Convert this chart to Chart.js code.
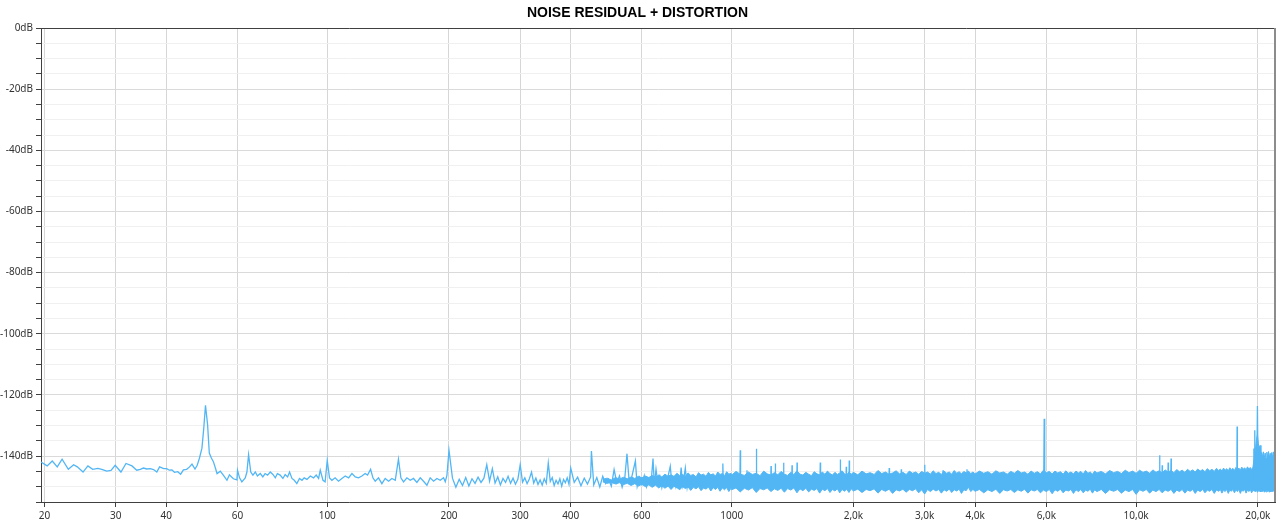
<!DOCTYPE html>
<html>
<head>
<meta charset="utf-8">
<title>Noise residual + distortion</title>
<script src="https://cdn.jsdelivr.net/npm/chart.js@4.4.1/dist/chart.umd.min.js"></script>
<style>
  html, body { margin: 0; padding: 0; background: #ffffff; }
  #wrap { width: 1280px; height: 527px; }
</style>
</head>
<body>
<div id="wrap"><canvas id="noiseChart" width="1280" height="527"></canvas></div>
<script>
// Axis ticks
const freqTicks = [20, 30, 40, 60, 100, 200, 300, 400, 600, 1000, 2000, 3000, 4000, 6000, 10000, 20000];
const freqLabels = ['20', '30', '40', '60', '100', '200', '300', '400', '600', '1000', '2,0k', '3,0k', '4,0k', '6,0k', '10,0k', '20,0k'];
const dbLabelled = [0, -20, -40, -60, -80, -100, -120, -140];

// Spectrum, [Hz, dB]
const lowBand = [
  [19.6,-141.9],[20.3,-143.2],[20.9,-141.6],[21.5,-143.5],[22.1,-141.0],[22.9,-144.3],[23.6,-142.8],[24.1,-143.5],
  [24.9,-145.2],[25.6,-143.2],[26.3,-144.3],[27.1,-144.0],[27.7,-144.3],[28.5,-144.9],[29.2,-144.7],[29.9,-143.0],
  [30.9,-145.2],[31.8,-142.4],[32.9,-143.2],[33.8,-144.6],[34.5,-144.3],[35.1,-143.9],[35.8,-144.2],[36.5,-144.1],
  [37.2,-144.4],[37.9,-145.2],[38.5,-143.5],[39.4,-144.1],[40.1,-144.1],[40.7,-144.6],[41.3,-144.5],[41.9,-145.3],
  [42.7,-145.1],[43.4,-145.9],[44.1,-144.5],[44.9,-144.3],[45.6,-143.6],[46.3,-142.6],[47.1,-144.2],[47.7,-143.0],
  [48.3,-140.7],[49.0,-137.4],[49.5,-131.0],[50.0,-123.4],[50.6,-129.7],[51.1,-139.0],[51.7,-140.6],[52.3,-141.8],
  [52.9,-143.9],[53.4,-145.7],[54.4,-144.9],[55.4,-146.3],[56.5,-147.9],[57.3,-146.1],[58.6,-147.4],[59.8,-147.8],
  [60.0,-144.6],[60.7,-147.1],[61.5,-148.4],[62.7,-147.1],[63.3,-145.2],[63.9,-139.5],[64.7,-145.2],[65.5,-146.2],
  [66.4,-145.2],[67.2,-146.5],[68.3,-145.7],[69.3,-146.8],[70.2,-145.7],[71.2,-146.2],[72.3,-145.2],[73.4,-146.0],
  [74.4,-147.1],[75.3,-145.7],[76.5,-146.2],[77.7,-147.3],[78.7,-146.0],[79.8,-146.8],[80.7,-145.2],[81.8,-147.3],
  [82.9,-147.9],[84.1,-149.0],[85.4,-147.3],[86.6,-147.9],[87.7,-147.1],[89.1,-147.6],[90.8,-146.5],[92.5,-147.1],
  [93.9,-146.2],[95.2,-147.3],[96.1,-144.6],[97.6,-147.9],[98.8,-148.4],[100.0,-141.4],[101.3,-147.1],[102.7,-147.9],
  [104.6,-147.1],[106.6,-148.2],[108.7,-147.3],[110.8,-146.5],[112.9,-147.1],[115.1,-145.7],[117.3,-146.8],[119.5,-147.1],
  [121.8,-146.5],[124.1,-145.7],[125.8,-146.2],[128.0,-144.3],[129.7,-147.1],[131.4,-148.2],[133.9,-147.1],[136.5,-149.0],
  [139.1,-147.3],[141.8,-148.2],[144.5,-147.3],[147.3,-147.9],[150.0,-141.0],[152.1,-147.1],[154.4,-148.4],[157.4,-147.1],
  [160.4,-147.9],[163.4,-147.3],[166.6,-148.6],[169.8,-147.1],[173.0,-148.2],[176.4,-149.5],[179.7,-147.1],[183.2,-148.2],
  [186.7,-147.3],[190.3,-147.9],[193.9,-147.1],[195.8,-148.4],[197.7,-146.2]
];

const midBand = [
  [200,-138.1],[204,-147.2],[208,-150.2],[212,-147.6],[216,-149.6],[220,-147.0],[224,-149.8],[228,-147.4],
  [232,-148.9],[236,-146.9],[240,-148.6],[244,-147.2],[248,-142.8],[252,-148.2],[256,-144.1],[260,-148.8],
  [264,-146.8],[268,-149.4],[272,-147.3],[276,-148.6],[280,-146.6],[284,-148.9],[288,-147.2],[292,-149.2],
  [296,-147.6],[300,-142.8],[304,-148.5],[308,-147.1],[312,-149.0],[316,-147.5],[320,-145.2],[324,-148.8],
  [328,-147.2],[332,-149.3],[336,-147.8],[340,-149.5],[344,-147.4],[348,-148.9],[352,-142.2],[356,-148.3],
  [360,-147.0],[364,-149.6],[368,-147.9],[372,-149.1],[376,-147.4],[380,-149.8],[384,-147.6],[388,-148.7],
  [392,-147.1],[396,-149.2],
  [400,-143.9],[408,-148.6],[416,-146.9],[424,-149.7],[432,-147.2],[440,-149.1],[448,-146.8],[450,-138.3],
  [456,-149.4],[464,-147.0],[472,-150.1],[480,-146.6],[488,-149.0],[496,-147.5],[504,-149.8],[512,-144.4],
  [520,-148.7],[528,-146.5],[536,-150.2],[544,-147.3],[551,-139.2],[558,-148.5],[566,-146.9],[578,-141.6],
  [584,-149.9],[592,-147.0],[600,-149.3],[608,-146.4],[616,-150.0],[624,-147.4],[632,-148.8],[639,-140.8],
  [644,-149.7],[650,-144.3],[656,-148.3],[664,-146.5],[672,-150.3],[680,-147.1],[688,-149.2],[696,-146.7],
  [705,-143.3],[712,-149.6],[720,-146.9],[728,-150.1],[736,-147.4],[744,-149.0],[750,-143.7],[756,-149.5],
  [762,-147.0],[768,-143.9],[776,-150.2],[784,-146.6],[792,-149.4]
];

// Harmonic lines standing out of the dense noise, [Hz, dB]
const spikes = [
  [800,-148],[949,-148],[951,-142.4],[953,-148],[1048,-148],[1050,-138.1],[1052,-148],[1089,-148],[1091,-144.6],
  [1093,-148],[1149,-148],[1151,-137.6],[1153,-148],[1249,-148],[1251,-143.2],[1253,-148],[1280,-148],[1282,-142.4],
  [1284,-148],[1342,-148],[1344,-142.2],[1346,-148],[1408,-148],[1410,-143.0],[1412,-148],[1449,-148],[1451,-142.1],
  [1453,-148],[1653,-148],[1656,-142.1],[1659,-148],[1853,-148],[1856,-141.1],[1859,-148],[1917,-148],[1920,-143.5],
  [1923,-148],[1950,-148],[1953,-141.4],[1956,-148],[2448,-148],[2452,-143.9],[2456,-148],[2622,-148],[2626,-144.3],
  [2630,-148],[2995,-148],[3000,-142.8],[3005,-148],[3326,-148],[3331,-144.6],[3336,-148],[3812,-148],[3818,-144.3],
  [3824,-148],[5910,-148],[5925,-127.8],[5935,-128.3],[5950,-148],[11420,-148],[11434,-139.7],[11448,-148],
  [11580,-148],[11600,-143.0],[11620,-148],[11980,-148],[12000,-142.1],[12020,-148],[12180,-148],[12200,-140.8],
  [12220,-148],[17740,-148],[17770,-130.3],[17800,-148],[19500,-148],[19550,-137.5],[19600,-148],[19650,-131.5],
  [19700,-146],[19880,-146],[19950,-123.6],[20020,-146],[22050,-148]
];

// Dense noise floor as seen on screen: [Hz, upper edge dB, lower edge dB]
const noiseFloor = [
  [480,-147.6,-148.4],[492,-147.2,-148.9],[504,-147.8,-148.6],[516,-147.0,-149.1],[528,-147.5,-148.7],[540,-146.9,-149.3],
  [552,-147.4,-148.9],[564,-146.8,-149.6],[576,-147.3,-149.0],[588,-146.6,-149.8],[600,-147.1,-149.2],[612,-146.5,-150.0],
  [624,-147.0,-149.4],[636,-146.3,-150.2],[648,-146.9,-149.5],[660,-146.2,-150.4],[672,-146.8,-149.7],[684,-145.9,-150.5],
  [696,-146.6,-149.8],[708,-146.1,-150.9],[720,-146.7,-149.9],[732,-145.6,-150.3],[744,-146.4,-151.0],[756,-146.0,-150.0],
  [768,-146.6,-150.6],[780,-145.5,-150.1],[792,-146.3,-151.2],[804,-146.0,-150.2],[816,-146.8,-150.7],[828,-145.4,-150.0],
  [840,-146.2,-151.3],[852,-145.9,-150.4],[864,-146.6,-150.8],[876,-145.3,-150.1],[888,-146.1,-151.4],[900,-145.8,-150.3],
  [912,-146.5,-150.9],[924,-145.2,-150.2],[936,-146.0,-151.5],[948,-145.7,-150.4],[960,-146.4,-151.0],[972,-145.1,-150.3],
  [984,-145.9,-151.6],[996,-145.6,-150.5],
  [1000,-146.2,-151.0],[1025,-145.0,-150.4],[1050,-145.9,-151.7],[1075,-146.3,-150.5],[1100,-145.2,-151.1],[1125,-146.0,-150.3],
  [1150,-145.6,-151.9],[1175,-146.4,-150.6],[1200,-144.9,-151.0],[1225,-145.8,-150.4],[1250,-146.2,-151.6],[1275,-145.4,-150.7],
  [1300,-146.1,-151.2],[1325,-145.0,-150.5],[1350,-145.9,-151.8],[1375,-146.3,-150.6],[1400,-145.3,-151.1],[1425,-146.0,-150.4],
  [1450,-144.8,-152.0],[1475,-145.9,-150.7],[1500,-146.2,-151.3],[1525,-145.3,-150.5],[1550,-145.9,-151.7],[1575,-146.4,-150.8],
  [1600,-145.1,-151.2],[1625,-145.8,-150.6],[1650,-146.1,-152.1],[1675,-145.2,-150.8],[1700,-145.9,-151.3],[1725,-144.9,-150.6],
  [1750,-145.7,-151.9],[1775,-146.2,-150.9],[1800,-145.3,-151.4],[1825,-146.0,-150.7],[1850,-145.5,-152.0],[1875,-144.8,-150.9],
  [1900,-145.8,-151.5],[1925,-146.1,-150.8],[1950,-145.2,-151.9],[1975,-145.9,-150.7],
  [2000,-145.3,-151.4],[2050,-146.1,-150.8],[2100,-144.9,-151.9],[2150,-145.8,-150.9],[2200,-145.4,-151.3],[2250,-146.0,-150.7],
  [2300,-144.7,-152.1],[2350,-145.7,-150.9],[2400,-145.2,-151.5],[2450,-145.9,-150.8],[2500,-145.5,-152.2],[2550,-144.8,-151.0],
  [2600,-145.8,-151.4],[2650,-145.3,-150.8],[2700,-146.0,-151.8],[2750,-144.9,-150.9],[2800,-145.6,-151.3],[2850,-145.2,-150.7],
  [2900,-145.9,-152.0],[2950,-145.0,-151.0],[3000,-145.6,-152.4],[3050,-145.2,-150.9],[3100,-145.9,-151.6],[3150,-144.8,-150.8],
  [3200,-145.7,-151.4],[3250,-145.3,-150.9],[3300,-146.0,-152.1],[3350,-144.9,-151.0],[3400,-145.6,-151.5],[3450,-145.2,-150.8],
  [3500,-145.9,-151.9],[3550,-144.7,-151.0],[3600,-145.6,-151.4],[3650,-145.1,-150.8],[3700,-145.8,-152.2],[3750,-145.0,-151.0],
  [3800,-145.5,-151.3],[3850,-144.9,-150.2],[3900,-145.7,-151.6],[3950,-145.2,-150.9],
  [4000,-145.8,-151.5],[4100,-144.9,-150.9],[4200,-145.6,-152.0],[4300,-145.1,-151.0],[4400,-145.9,-151.6],[4500,-144.8,-150.8],
  [4600,-145.5,-152.2],[4700,-145.2,-151.0],[4800,-145.9,-151.4],[4900,-145.0,-150.9],[5000,-145.6,-151.9],[5100,-144.7,-151.0],
  [5200,-145.5,-151.5],[5300,-145.2,-150.8],[5400,-145.9,-152.1],[5500,-144.9,-151.0],[5600,-145.6,-151.4],[5700,-145.1,-150.9],
  [5800,-145.8,-152.0],[5900,-144.6,-151.1],[6000,-145.4,-151.6],[6100,-145.0,-150.9],[6200,-145.8,-152.3],[6300,-144.9,-151.0],
  [6400,-145.5,-151.5],[6500,-145.1,-150.8],[6600,-145.9,-152.0],[6700,-144.8,-151.1],[6800,-145.6,-151.4],[6900,-145.2,-150.9],
  [7000,-145.8,-152.2],[7100,-144.9,-151.0],[7200,-145.5,-151.6],[7300,-145.0,-150.9],[7400,-145.8,-152.0],[7500,-144.7,-151.1],
  [7600,-145.6,-151.5],[7700,-145.2,-150.8],[7800,-145.9,-152.1],[7900,-144.9,-151.0],
  [8000,-145.5,-151.6],[8200,-145.0,-150.9],[8400,-145.8,-152.2],[8600,-144.7,-151.0],[8800,-145.4,-151.5],[9000,-145.0,-150.9],
  [9200,-145.7,-152.1],[9400,-144.6,-151.1],[9600,-145.4,-151.6],[9800,-144.9,-150.9],[10000,-145.6,-152.5],[10200,-144.6,-151.0],
  [10400,-145.3,-151.5],[10600,-144.9,-150.9],[10800,-145.6,-152.1],[11000,-144.5,-151.1],[11200,-145.3,-151.6],[11400,-144.8,-150.9],
  [11600,-145.5,-152.0],[11800,-144.5,-151.1],[12000,-145.2,-151.5],[12200,-144.7,-150.9],[12400,-145.4,-152.2],[12600,-144.4,-151.1],
  [12800,-145.1,-151.6],[13000,-144.6,-150.9],[13200,-145.3,-152.1],[13400,-144.3,-151.1],[13600,-145.0,-151.5],[13800,-144.5,-150.9],
  [14000,-145.2,-152.2],[14200,-144.2,-151.1],[14400,-144.9,-151.6],[14600,-144.4,-150.9],[14800,-145.1,-152.0],[15000,-144.1,-151.1],
  [15200,-144.8,-151.5],[15400,-144.3,-150.9],[15600,-145.0,-152.2],[15800,-144.0,-151.1],
  [16000,-144.7,-151.5],[16150,-144.2,-150.9],[16300,-144.9,-152.1],[16450,-143.9,-151.1],[16600,-144.6,-151.6],[16750,-144.1,-150.9],
  [16900,-144.8,-152.2],[17050,-143.8,-151.1],[17200,-144.5,-151.5],[17350,-144.0,-150.9],[17500,-144.7,-152.0],[17650,-143.7,-151.1],
  [17800,-144.4,-151.6],[17950,-143.9,-150.9],[18100,-144.6,-152.2],[18250,-143.6,-151.1],[18400,-144.3,-151.5],[18550,-143.8,-150.9],
  [18700,-144.5,-152.1],[18850,-143.5,-151.1],[19000,-144.2,-151.6],[19150,-143.7,-150.9],[19300,-144.4,-152.0],[19450,-143.6,-151.2],
  [19600,-140.5,-151.4],[19750,-137.0,-151.6],[19850,-134.5,-151.2],[19950,-133.0,-151.8],[20050,-135.8,-151.3],[20150,-137.5,-151.6],
  [20250,-136.5,-151.2],[20350,-139.5,-151.7],[20450,-138.8,-151.3],[20550,-140.2,-151.6],[20650,-138.6,-151.2],[20750,-140.5,-151.8],
  [20850,-139.0,-151.3],[20950,-140.8,-151.7],[21050,-138.7,-151.2],[21150,-140.3,-151.6],[21250,-138.5,-151.3],[21350,-140.6,-151.8],
  [21450,-139.1,-151.2],[21550,-140.9,-151.7],[21650,-138.8,-151.3],[21750,-140.4,-151.6],[21850,-138.6,-151.2],[21950,-140.2,-151.7],
  [22050,-139.0,-151.4]
];

const traceColor = '#52b6f5';

// Frame around the plot: dark top edge, grey right edge
const framePlugin = {
  id: 'frame',
  afterDraw(chart) {
    const { ctx, chartArea } = chart;
    ctx.save();
    ctx.strokeStyle = '#404040';
    ctx.lineWidth = 1;
    ctx.beginPath();
    ctx.moveTo(chartArea.left, chartArea.top + 0.5);
    ctx.lineTo(chartArea.right, chartArea.top + 0.5);
    ctx.stroke();
    ctx.strokeStyle = '#8c8c8c';
    ctx.lineWidth = 2;
    ctx.beginPath();
    ctx.moveTo(chartArea.right, chartArea.top);
    ctx.lineTo(chartArea.right, chartArea.bottom);
    ctx.stroke();
    ctx.restore();
  }
};

document.addEventListener('DOMContentLoaded', function() {
  const toXY = p => ({ x: p[0], y: p[1] });
  const trace = lowBand.concat(midBand, spikes).map(toXY);
  const floorTop = noiseFloor.map(p => ({ x: p[0], y: p[1] }));
  const floorBottom = noiseFloor.map(p => ({ x: p[0], y: p[2] }));
  const tickFont = { family: '"Noto Sans", "DejaVu Sans", sans-serif', size: 10 };

  new Chart(document.getElementById('noiseChart'), {
    type: 'line',
    data: {
      datasets: [
        {
          data: trace,
          borderColor: traceColor,
          borderWidth: 1.3,
          pointRadius: 0,
          tension: 0,
          fill: false
        },
        {
          data: floorTop,
          borderColor: traceColor,
          backgroundColor: traceColor,
          borderWidth: 1,
          pointRadius: 0,
          tension: 0,
          fill: '+1'
        },
        {
          data: floorBottom,
          borderColor: traceColor,
          borderWidth: 1,
          pointRadius: 0,
          tension: 0,
          fill: false
        }
      ]
    },
    options: {
      responsive: false,
      animation: false,
      layout: { padding: { left: 0, right: 5, top: 0, bottom: 0 } },
      plugins: {
        legend: { display: false },
        tooltip: { enabled: false },
        title: {
          display: true,
          text: 'NOISE RESIDUAL + DISTORTION',
          color: '#000000',
          font: { family: '"Liberation Sans", Arial, sans-serif', size: 14, weight: 'bold', lineHeight: 1.2 },
          padding: { top: 5, bottom: 6.2 }
        }
      },
      scales: {
        x: {
          type: 'logarithmic',
          min: 19.6,
          max: 22050,
          afterBuildTicks(scale) {
            scale.ticks = freqTicks.map(v => ({ value: v }));
          },
          afterFit(scale) { scale.height = 25; },
          grid: { color: '#d6d6d6', tickColor: '#404040', tickLength: 5, drawOnChartArea: true },
          border: { color: '#404040', width: 1 },
          ticks: {
            autoSkip: false,
            maxRotation: 0,
            padding: 3,
            color: '#333333',
            font: tickFont,
            callback(value) {
              const i = freqTicks.indexOf(value);
              return i >= 0 ? freqLabels[i] : '';
            }
          }
        },
        y: {
          min: -155,
          max: 0,
          afterFit(scale) { scale.width = 41; },
          grid: {
            color(ctx) {
              return dbLabelled.includes(ctx.tick.value) ? '#dadada' : '#f0f0f0';
            },
            tickColor: '#404040',
            tickLength: 5
          },
          border: { color: '#404040', width: 1 },
          ticks: {
            stepSize: 5,
            autoSkip: false,
            padding: 3,
            color: '#333333',
            font: tickFont,
            callback(value) {
              return dbLabelled.includes(value) ? value + 'dB' : '';
            }
          }
        }
      }
    },
    plugins: [framePlugin]
  });
});
</script>
</body>
</html>
